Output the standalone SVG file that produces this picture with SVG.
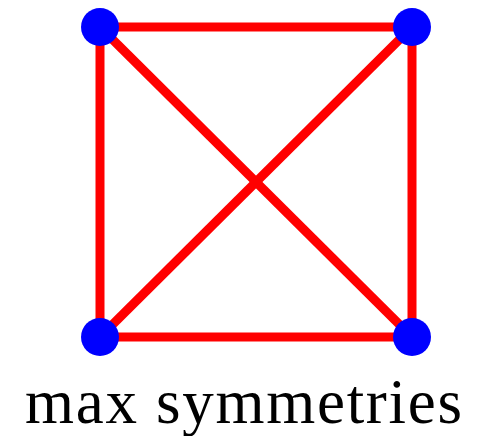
<svg xmlns="http://www.w3.org/2000/svg" width="479" height="436" viewBox="0 0 479 436">
<style>
.e{stroke:#ff0000;stroke-width:9;fill:none}
.n{fill:#0000ff}
.t{font-family:"Liberation Serif","Times New Roman",serif;font-size:63px;fill:#000}
</style>
<rect width="479" height="436" fill="#fff"/>
<g id="edges">
<line class="e" x1="100" y1="27" x2="412" y2="27"/>
<line class="e" x1="100" y1="337" x2="412" y2="337"/>
<line class="e" x1="100" y1="27" x2="100" y2="337"/>
<line class="e" x1="412" y1="27" x2="412" y2="337"/>
<line class="e" x1="100" y1="27" x2="412" y2="337"/>
<line class="e" x1="412" y1="27" x2="100" y2="337"/>
</g>
<g id="n1"><circle class="n" cx="100" cy="27" r="19"/></g>
<g id="n2"><circle class="n" cx="412" cy="27" r="19"/></g>
<g id="n3"><circle class="n" cx="100" cy="337" r="19"/></g>
<g id="n4"><circle class="n" cx="412" cy="337" r="19"/></g>
<text class="t" x="25" y="423" textLength="437" lengthAdjust="spacing">max symmetries</text>
</svg>
